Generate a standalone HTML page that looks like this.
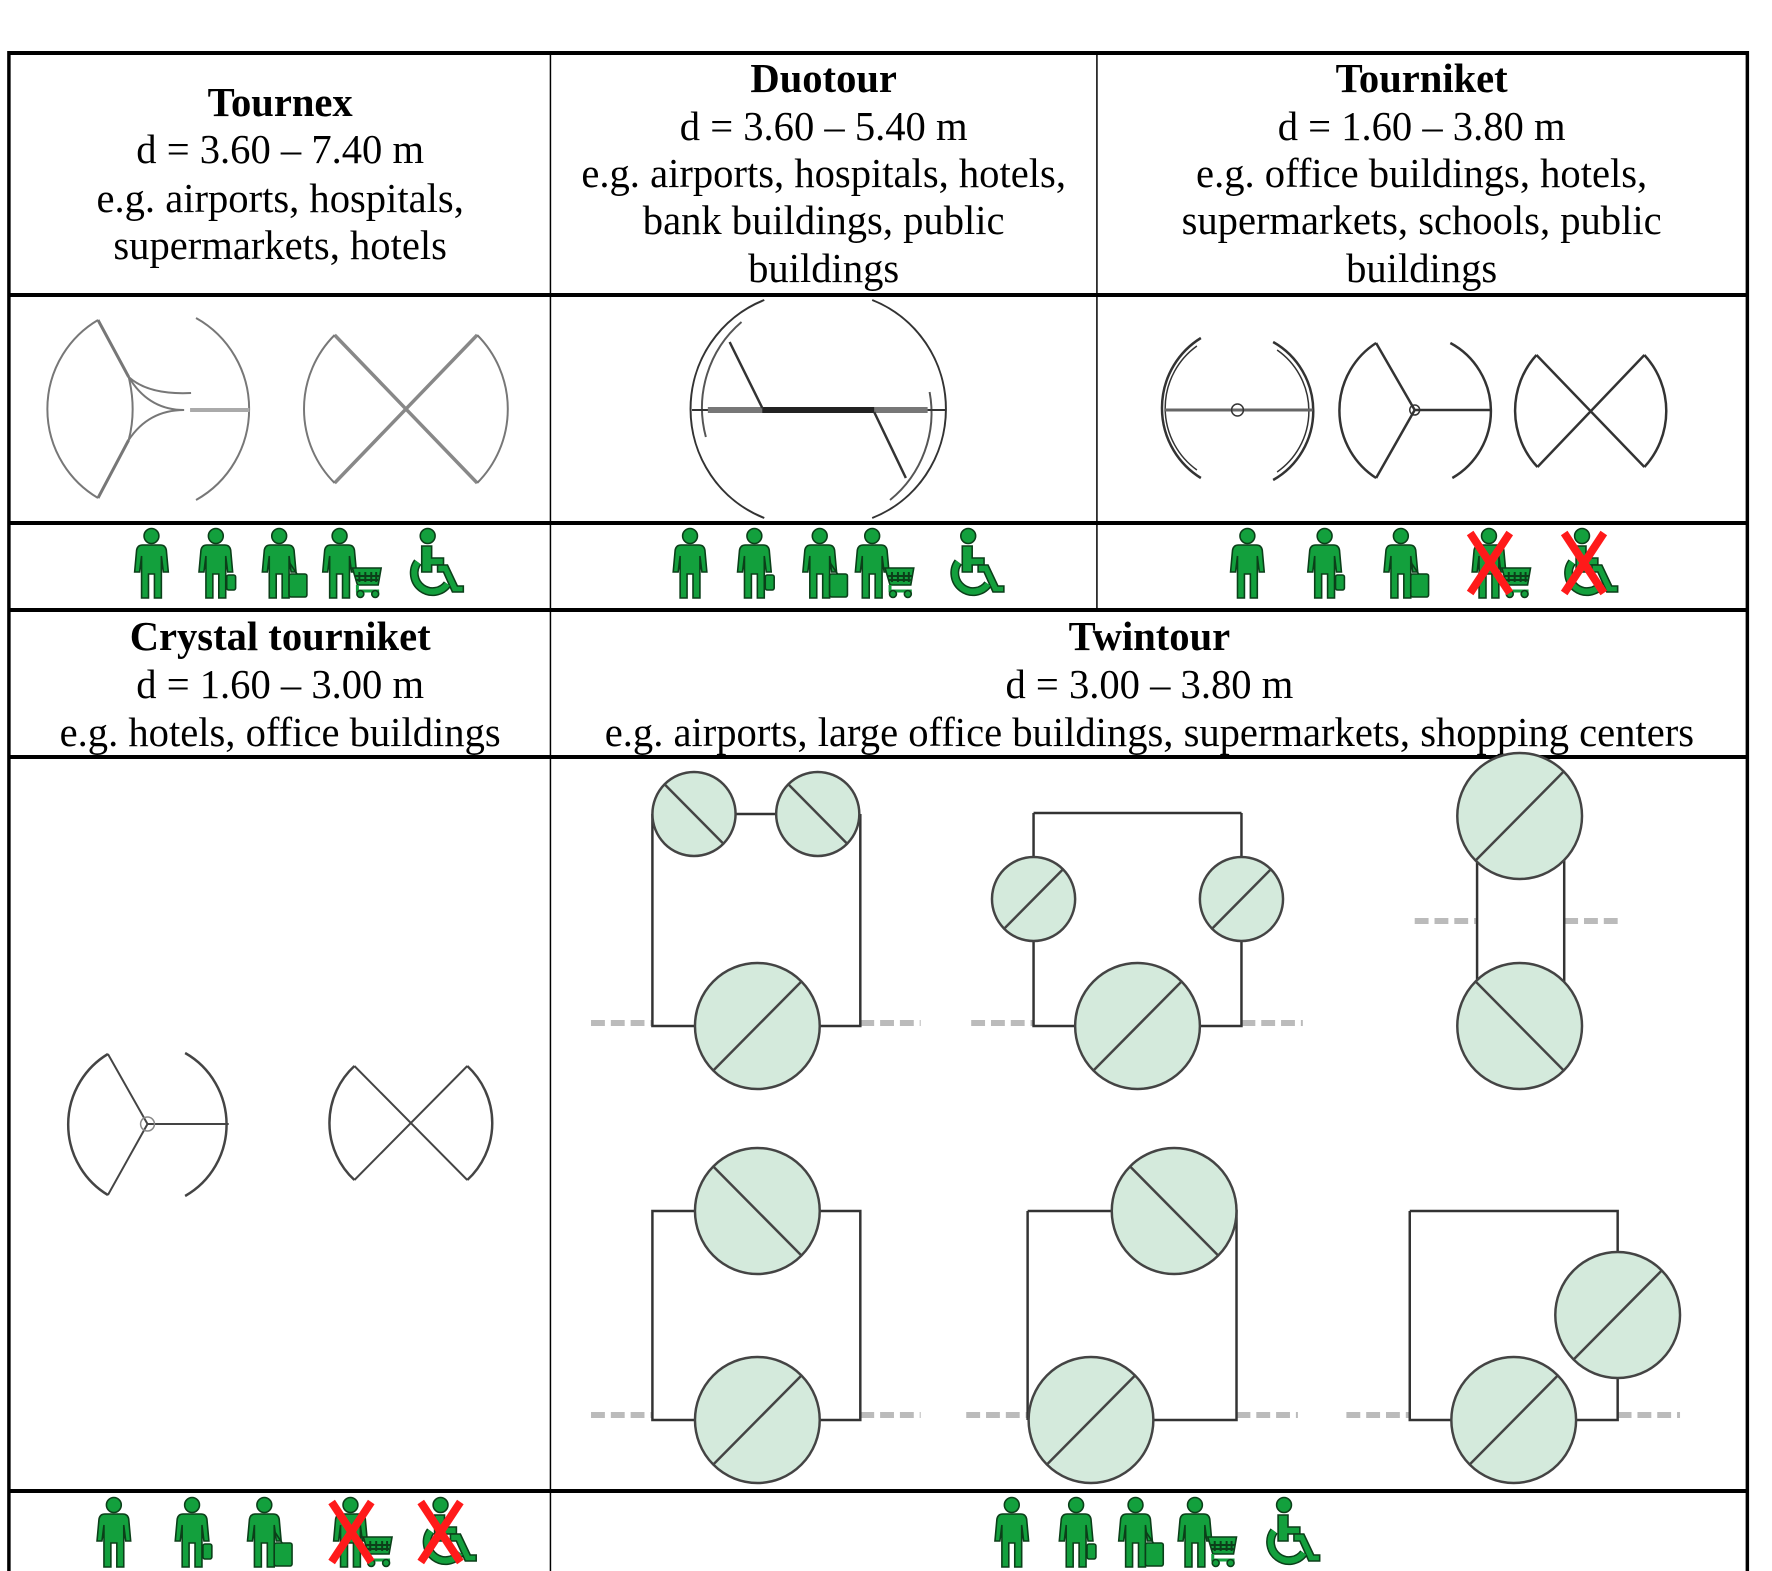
<!DOCTYPE html>
<html><head><meta charset="utf-8"><style>
html,body{margin:0;padding:0;background:#fff;}
svg{display:block;}
text{font-family:"Liberation Serif","Times New Roman",serif;font-size:41px;fill:#000;}
.b{font-weight:bold;}
</style></head><body>
<svg width="1772" height="1571" viewBox="0 0 1772 1571" xmlns="http://www.w3.org/2000/svg">
<defs>
<g id="body">
<circle cx="18" cy="8" r="7.5"/>
<path d="M9,17 H27 Q32,17 33,22 L35,44 H30 L28,28 V70 H21 V46 H15 V70 H8 V28 L6,44 H1 L3,22 Q4,17 9,17 Z"/>
</g>
<g id="p1" fill="#13a03d" stroke="#0b3f19" stroke-width="1.6"><use href="#body"/></g>
<g id="p2" fill="#13a03d" stroke="#0b3f19" stroke-width="1.6"><use href="#body"/><rect x="29" y="47" width="9" height="15" rx="2"/></g>
<g id="p3" fill="#13a03d" stroke="#0b3f19" stroke-width="1.6"><use href="#body"/><path d="M28,34 L36,46"/><rect x="28" y="46" width="18" height="23" rx="2"/></g>
<g id="p4" fill="#13a03d" stroke="#0b3f19" stroke-width="1.6"><use href="#body"/>
<path d="M31,40 H60 L57,57 H36 Z" fill="#13a03d"/>
<path d="M38,44 v10 M44,44 v10 M50,44 v10 M55,44 v10 M34,48 H58 M34,52 H57" stroke="#0b3f19" stroke-width="2"/>
<path d="M36,57 V63 H58" fill="none" stroke-width="3" stroke="#13a03d"/>
<circle cx="39" cy="66" r="3.5"/><circle cx="54" cy="66" r="3.5"/></g>
<g id="wc" fill="#13a03d" stroke="#0b3f19" stroke-width="1.6">
<circle cx="20" cy="8" r="7.5"/>
<path d="M14,18 H24 V30 H36 V37 H24 V44 H14 Z"/>
<path d="M30,37 H40 L50,58 H56 V64 H45 L36,44 H30 Z"/>
<path d="M10,34 A18,18 0 1 0 40,56" fill="none" stroke="#0b3f19" stroke-width="9"/>
<path d="M10,34 A18,18 0 1 0 40,56" fill="none" stroke="#13a03d" stroke-width="6"/>
</g>
<g id="rx" stroke="#ff1a1a" stroke-width="8" fill="none"><path d="M0,0 L40,60 M40,0 L0,60"/></g>
</defs>

<g transform="matrix(0.99,0,0,1,0,0)">
<!-- table grid -->
<g stroke="#000" fill="none">
<path d="M9,53 H1765 M9,295 H1765 M9,523 H1765 M9,610 H1765 M9,757 H1765 M9,1491 H1765" stroke-width="4"/>
<path d="M9,51 V1571 M1765,51 V1571" stroke-width="3.5"/>
<path d="M556,53 V1571 M1108,53 V610" stroke-width="1.5"/>
</g>

<!-- header texts -->
<text x="283" y="116" text-anchor="middle" class="b">Tournex</text>
<text x="283" y="163" text-anchor="middle">d = 3.60 – 7.40 m</text>
<text x="283" y="212" text-anchor="middle">e.g. airports, hospitals,</text>
<text x="283" y="259" text-anchor="middle">supermarkets, hotels</text>

<text x="832" y="92" text-anchor="middle" class="b">Duotour</text>
<text x="832" y="140" text-anchor="middle">d = 3.60 – 5.40 m</text>
<text x="832" y="187" text-anchor="middle">e.g. airports, hospitals, hotels,</text>
<text x="832" y="234" text-anchor="middle">bank buildings, public</text>
<text x="832" y="282" text-anchor="middle">buildings</text>

<text x="1436" y="92" text-anchor="middle" class="b">Tourniket</text>
<text x="1436" y="140" text-anchor="middle">d = 1.60 – 3.80 m</text>
<text x="1436" y="187" text-anchor="middle">e.g. office buildings, hotels,</text>
<text x="1436" y="234" text-anchor="middle">supermarkets, schools, public</text>
<text x="1436" y="282" text-anchor="middle">buildings</text>

<text x="283" y="650" text-anchor="middle" class="b">Crystal tourniket</text>
<text x="283" y="698" text-anchor="middle">d = 1.60 – 3.00 m</text>
<text x="283" y="746" text-anchor="middle">e.g. hotels, office buildings</text>

<text x="1161" y="650" text-anchor="middle" class="b">Twintour</text>
<text x="1161" y="698" text-anchor="middle">d = 3.00 – 3.80 m</text>
<text x="1161" y="746" text-anchor="middle">e.g. airports, large office buildings, supermarkets, shopping centers</text>

<!-- Tournex drawings -->
<g fill="none" stroke="#777" stroke-width="2">
<path d="M99,320 A103,103 0 0 0 99,498"/>
<path d="M198,318 A104,104 0 0 1 198,500"/>
<path d="M99,320 L130,377 M99,498 L130,440" stroke-width="3"/>
<path d="M130,377 Q138,410 130,440"/>
<path d="M130,377 Q150,410 186,410 M130,440 Q150,410 186,410"/>
<path d="M130,377 Q150,395 193,393"/>
<path d="M192,410 H252" stroke-width="4" stroke="#aaa"/>
<path d="M338,335 L482,483 M482,335 L338,483" stroke-width="3.5" stroke="#888"/>
<path d="M338,335 A104,104 0 0 0 338,483"/>
<path d="M482,335 A104,104 0 0 1 482,483"/>
</g>

<!-- Duotour drawing -->
<g fill="none" stroke="#333" stroke-width="2">
<path d="M772,300 A117,117 0 0 0 772,518"/>
<path d="M881,300 A117,117 0 0 1 881,518"/>
<path d="M749,322 A112,112 0 0 0 713,437" stroke="#555"/>
<path d="M939,392 A112,112 0 0 1 899,500" stroke="#555"/>
<path d="M699,410 H955" stroke-width="2"/>
<path d="M715,410 H937" stroke-width="6" stroke="#777"/>
<path d="M770,410 H883" stroke-width="6" stroke="#222"/>
<path d="M737,342 L770,408 M883,412 L915,478" stroke-width="2.5"/>
</g>

<!-- Tourniket drawings -->
<g fill="none" stroke="#333" stroke-width="2.5">
<path d="M1213,338 A82,82 0 0 0 1213,478"/>
<path d="M1209,346 A76,76 0 0 0 1209,470" stroke-width="1.5"/>
<path d="M1286,342 A79,79 0 0 1 1286,480"/>
<path d="M1290,350 A74,74 0 0 1 1290,472" stroke-width="1.5"/>
<path d="M1176,410 H1326" stroke-width="3" stroke="#666"/>
<circle cx="1250" cy="410" r="6" stroke-width="1.5"/>
<path d="M1390,343 A80,80 0 0 0 1390,478"/>
<path d="M1465,343 A77,77 0 0 1 1467,478"/>
<path d="M1390,343 L1429,410 L1390,478 M1429,410 H1506"/>
<circle cx="1429" cy="410" r="5" stroke-width="1.5"/>
<path d="M1552,355 L1661,467 M1661,355 L1553,467"/>
<path d="M1552,355 A82,82 0 0 0 1553,467"/>
<path d="M1661,355 A82,82 0 0 1 1661,467"/>
</g>

<!-- Crystal drawings -->
<g fill="none" stroke="#444" stroke-width="2.5">
<path d="M109,1054 A82,82 0 0 0 109,1195"/>
<path d="M187,1053 A82,82 0 0 1 187,1196"/>
<path d="M109,1054 L149,1124 L109,1195 M149,1124 H231" stroke-width="2"/>
<circle cx="149" cy="1124" r="7" stroke-width="1.5" stroke="#888"/>
<path d="M358,1066 L472,1180 M472,1066 L358,1180" stroke-width="2"/>
<path d="M358,1066 A77,77 0 0 0 358,1180"/>
<path d="M472,1066 A77,77 0 0 1 472,1180"/>
</g>

<!-- Twintour drawings -->
<g fill="none" stroke="#bbb" stroke-width="6" stroke-dasharray="14,6">
<path d="M597,1023 H659 M869,1023 H930"/>
<path d="M981,1023 H1044 M1254,1023 H1316"/>
<path d="M1429,921 H1492 M1580,921 H1639"/>
<path d="M597,1415 H659 M869,1415 H930"/>
<path d="M976,1415 H1038 M1249,1415 H1311"/>
<path d="M1360,1415 H1424 M1634,1415 H1697"/>
</g>
<g fill="none" stroke="#333" stroke-width="2.5">
<path d="M659,814 V1026 H765 M869,814 V1026 H765 M701,814 H826" />
<path d="M1044,813 H1254 M1044,813 V1026 H1254 V813"/>
<path d="M1492,816 V1026 M1580,816 V1026"/>
<path d="M659,1211 V1420 H869 V1211 Z"/>
<path d="M1038,1211 H1249 V1420 H1102 M1038,1211 V1420"/>
<path d="M1424,1211 H1634 V1420 H1529 M1424,1211 V1420 H1529"/>
</g>
<g fill="#d4eadc" stroke="#444" stroke-width="2.5">
<circle cx="701" cy="814" r="42"/><circle cx="826" cy="814" r="42"/>
<circle cx="765" cy="1026" r="63"/>
<circle cx="1044" cy="899" r="42"/><circle cx="1254" cy="899" r="42"/>
<circle cx="1149" cy="1026" r="63"/>
<circle cx="1535" cy="816" r="63"/><circle cx="1535" cy="1026" r="63"/>
<circle cx="765" cy="1211" r="63"/><circle cx="765" cy="1420" r="63"/>
<circle cx="1186" cy="1211" r="63"/><circle cx="1102" cy="1420" r="63"/>
<circle cx="1634" cy="1315" r="63"/><circle cx="1529" cy="1420" r="63"/>
</g>
<g stroke="#444" stroke-width="2.5" fill="none">
<path d="M672,785 L730,843 M797,785 L855,843"/>
<path d="M721,1070 L809,982"/>
<path d="M1015,928 L1073,870 M1225,928 L1283,870"/>
<path d="M1105,1070 L1193,982"/>
<path d="M1491,860 L1579,772 M1491,982 L1579,1070"/>
<path d="M721,1167 L809,1255 M721,1464 L809,1376"/>
<path d="M1142,1167 L1230,1255 M1058,1464 L1146,1376"/>
<path d="M1590,1359 L1678,1271 M1485,1464 L1573,1376"/>
</g>

<!-- icons row 3 -->
<g transform="translate(0,528)">
<use href="#p1" x="135"/><use href="#p2" x="200"/><use href="#p3" x="264"/><use href="#p4" x="325"/><use href="#wc" x="412"/>
<use href="#p1" x="679"/><use href="#p2" x="744"/><use href="#p3" x="810"/><use href="#p4" x="863"/><use href="#wc" x="958"/>
<use href="#p1" x="1242"/><use href="#p2" x="1320"/><use href="#p3" x="1397"/><use href="#p4" x="1486"/><use href="#wc" x="1578"/>
<use href="#rx" x="1485" y="5"/><use href="#rx" x="1580" y="5"/>
</g>
<!-- bottom icons -->
<g transform="translate(0,1497)">
<use href="#p1" x="97"/><use href="#p2" x="176"/><use href="#p3" x="249"/><use href="#p4" x="336"/><use href="#wc" x="425"/>
<use href="#rx" x="335" y="5"/><use href="#rx" x="425" y="5"/>
<use href="#p1" x="1004"/><use href="#p2" x="1069"/><use href="#p3" x="1129"/><use href="#p4" x="1189"/><use href="#wc" x="1277"/>
</g>
</g>
</svg>
</body></html>
